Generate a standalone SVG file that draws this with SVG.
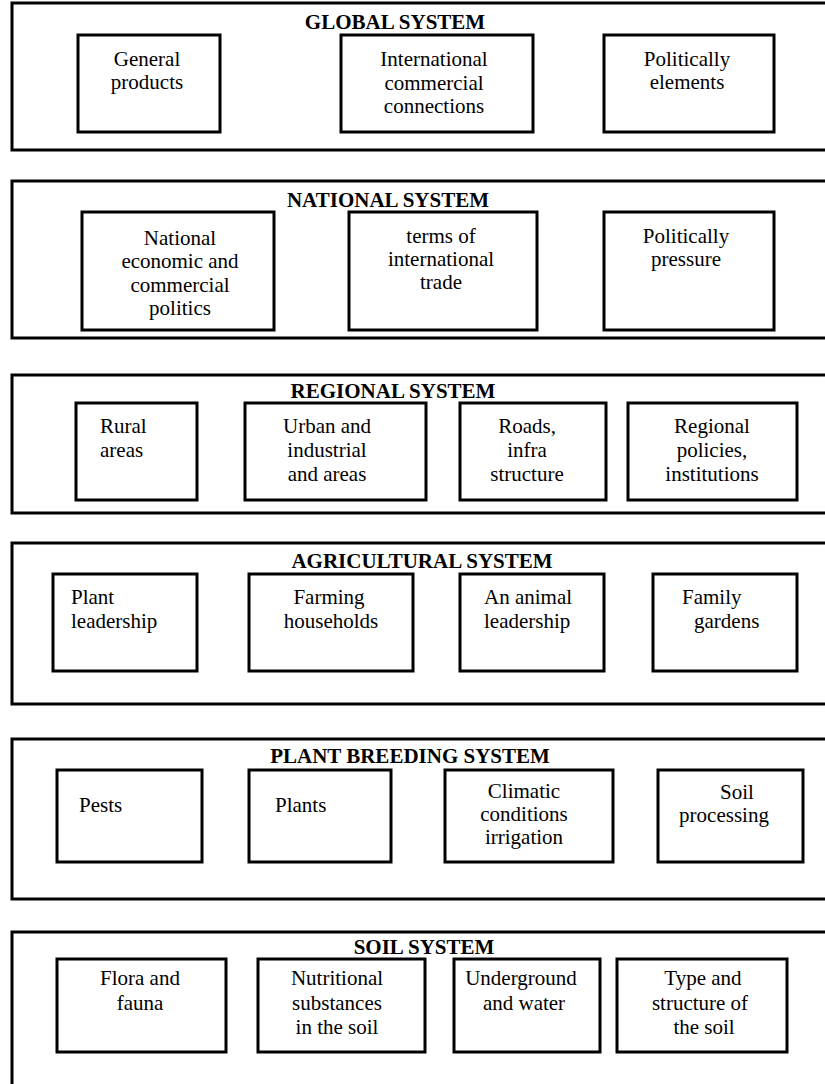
<svg xmlns="http://www.w3.org/2000/svg" width="825" height="1084" viewBox="0 0 825 1084">
<style>
.panel{fill:none;stroke:#000;stroke-width:3}
.box{fill:#fff;stroke:#000;stroke-width:3}
text{font-family:"Liberation Serif","Times New Roman",serif;font-size:21px;fill:#000}
.t{font-weight:bold;text-anchor:middle}
.c{text-anchor:middle}
</style>
<rect width="825" height="1084" fill="#fff"/>

<g id="global">
<rect class="panel" x="12" y="3" width="830" height="147"/>
<text class="t" x="395" y="29">GLOBAL SYSTEM</text>
<g id="general-products"><rect class="box" x="78" y="35" width="142" height="97"/>
<text class="c" x="147" y="66">General</text><text class="c" x="147" y="89">products</text></g>
<g id="international-connections"><rect class="box" x="341" y="35" width="192" height="97"/>
<text class="c" x="434" y="66">International</text><text class="c" x="434" y="90">commercial</text><text class="c" x="434" y="113">connections</text></g>
<g id="politically-elements"><rect class="box" x="604" y="35" width="170" height="97"/>
<text class="c" x="687" y="66">Politically</text><text class="c" x="687" y="89">elements</text></g>
</g>

<g id="national">
<rect class="panel" x="12" y="181" width="830" height="157"/>
<text class="t" x="388" y="207">NATIONAL SYSTEM</text>
<g id="national-politics"><rect class="box" x="82" y="212" width="192" height="118"/>
<text class="c" x="180" y="245">National</text><text class="c" x="180" y="268">economic and</text><text class="c" x="180" y="292">commercial</text><text class="c" x="180" y="315">politics</text></g>
<g id="terms-of-trade"><rect class="box" x="349" y="212" width="188" height="118"/>
<text class="c" x="441" y="243">terms of</text><text class="c" x="441" y="266">international</text><text class="c" x="441" y="289">trade</text></g>
<g id="politically-pressure"><rect class="box" x="604" y="212" width="170" height="118"/>
<text class="c" x="686" y="243">Politically</text><text class="c" x="686" y="266">pressure</text></g>
</g>

<g id="regional">
<rect class="panel" x="12" y="375" width="830" height="138"/>
<text class="t" x="393" y="398">REGIONAL SYSTEM</text>
<g id="rural-areas"><rect class="box" x="76" y="403" width="121" height="97"/>
<text x="100" y="433">Rural</text><text x="100" y="457">areas</text></g>
<g id="urban-areas"><rect class="box" x="245" y="403" width="181" height="97"/>
<text class="c" x="327" y="433">Urban and</text><text class="c" x="327" y="457">industrial</text><text class="c" x="327" y="481">and areas</text></g>
<g id="roads"><rect class="box" x="460" y="403" width="146" height="97"/>
<text class="c" x="527" y="433">Roads,</text><text class="c" x="527" y="457">infra</text><text class="c" x="527" y="481">structure</text></g>
<g id="regional-policies"><rect class="box" x="628" y="403" width="169" height="97"/>
<text class="c" x="712" y="433">Regional</text><text class="c" x="712" y="457">policies,</text><text class="c" x="712" y="481">institutions</text></g>
</g>

<g id="agricultural">
<rect class="panel" x="12" y="543" width="830" height="161"/>
<text class="t" x="422" y="568">AGRICULTURAL SYSTEM</text>
<g id="plant-leadership"><rect class="box" x="53" y="574" width="144" height="97"/>
<text x="71" y="604">Plant</text><text x="71" y="628">leadership</text></g>
<g id="farming-households"><rect class="box" x="249" y="574" width="164" height="97"/>
<text class="c" x="329" y="604">Farming</text><text class="c" x="331" y="628">households</text></g>
<g id="animal-leadership"><rect class="box" x="460" y="574" width="144" height="97"/>
<text x="484" y="604">An animal</text><text x="484" y="628">leadership</text></g>
<g id="family-gardens"><rect class="box" x="653" y="574" width="144" height="97"/>
<text x="682" y="604">Family</text><text x="694" y="628">gardens</text></g>
</g>

<g id="plant-breeding">
<rect class="panel" x="12" y="739" width="830" height="160"/>
<text class="t" x="410" y="763">PLANT BREEDING SYSTEM</text>
<g id="pests"><rect class="box" x="57" y="770" width="145" height="92"/>
<text x="79" y="812">Pests</text></g>
<g id="plants"><rect class="box" x="249" y="770" width="142" height="92"/>
<text x="275" y="812">Plants</text></g>
<g id="climatic-conditions"><rect class="box" x="445" y="770" width="168" height="92"/>
<text class="c" x="524" y="798">Climatic</text><text class="c" x="524" y="821">conditions</text><text class="c" x="524" y="844">irrigation</text></g>
<g id="soil-processing"><rect class="box" x="658" y="770" width="145" height="92"/>
<text class="c" x="737" y="799">Soil</text><text class="c" x="724" y="822">processing</text></g>
</g>

<g id="soil">
<rect class="panel" x="12" y="932" width="830" height="170"/>
<text class="t" x="424" y="954">SOIL SYSTEM</text>
<g id="flora-fauna"><rect class="box" x="57" y="959" width="169" height="93"/>
<text class="c" x="140" y="985">Flora and</text><text class="c" x="140" y="1010">fauna</text></g>
<g id="nutritional-substances"><rect class="box" x="258" y="959" width="167" height="93"/>
<text class="c" x="337" y="985">Nutritional</text><text class="c" x="337" y="1010">substances</text><text class="c" x="337" y="1034">in the soil</text></g>
<g id="underground-water"><rect class="box" x="454" y="959" width="146" height="93"/>
<text class="c" x="521" y="985">Underground</text><text class="c" x="524" y="1010">and water</text></g>
<g id="soil-type-structure"><rect class="box" x="617" y="959" width="170" height="93"/>
<text class="c" x="703" y="985">Type and</text><text class="c" x="700" y="1010">structure of</text><text class="c" x="704" y="1034">the soil</text></g>
</g>

<g id="connectors"/>
</svg>
